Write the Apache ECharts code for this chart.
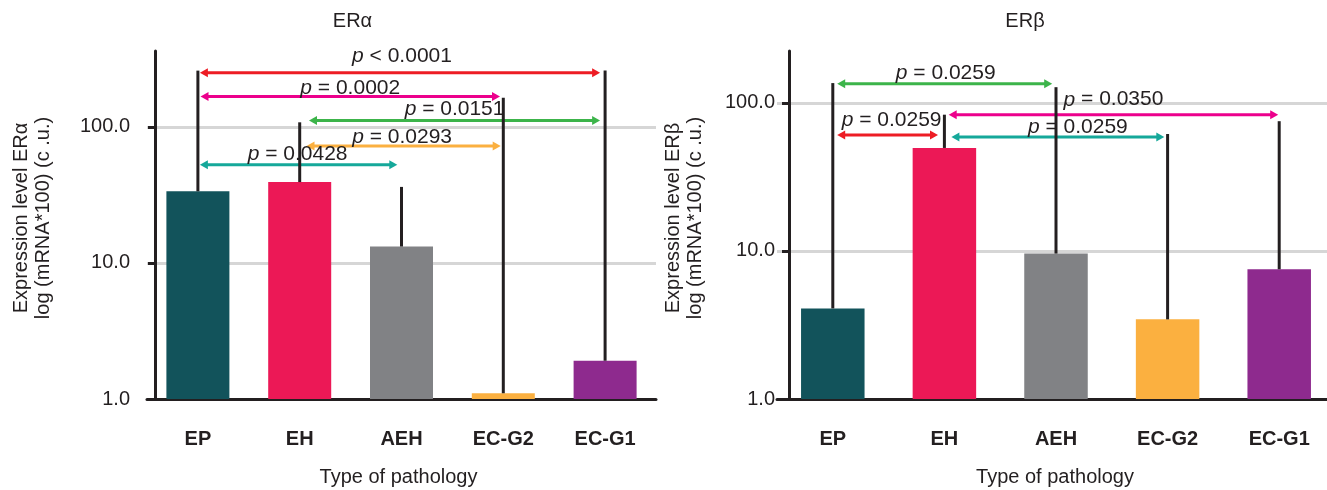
<!DOCTYPE html>
<html><head><meta charset="utf-8">
<script src="https://cdn.jsdelivr.net/npm/echarts@6/dist/echarts.min.js"></script>
<style>html,body{margin:0;padding:0;background:#fff}#c{width:1327px;height:490px}</style>
</head><body><div id="c"></div>
<script>
// ---------- data ----------
const categories = ['EP', 'EH', 'AEH', 'EC-G2', 'EC-G1'];
const yTicks = [1, 10, 100];
const alphaMeans = [33.6, 39.3, 13.2, 1.10, 1.91];
const alphaUpper = [259, 108, 36.2, 164, 259];
const betaMeans = [4.09, 49.6, 9.6, 3.45, 7.52];
const betaUpper = [136, 83.2, 127.6, 61.6, 75.2];
// comparisons: [fromIndex, toIndex, level, p-value text]
const alphaTests = [
  [0, 4, 250, '< 0.0001'],
  [0, 3, 167, '= 0.0002'],
  [1, 4, 111.5, '= 0.0151'],
  [1, 3, 72.4, '= 0.0293'],
  [0, 2, 52.7, '= 0.0428']
];
const betaTests = [
  [0, 2, 134.5, '= 0.0259'],
  [1, 4, 83.2, '= 0.0350'],
  [0, 1, 60.7, '= 0.0259'],
  [1, 3, 58.8, '= 0.0259']
];

// ---------- styles ----------
const barColors = ['#12535b', '#ec1856', '#818285', '#fbb040', '#8e2a8e'];
const alphaTestColors = ['#ed1c24', '#ec008c', '#3cb44a', '#fbb040', '#15a89a'];
const betaTestColors = ['#3cb44a', '#ec008c', '#ed1c24', '#15a89a'];
// [left gap, right gap, label rise, label shift]
const alphaTestLayout = [[2, -5, 16.5, 2], [2.6, -3.3, 8.5, 0], [9.3, -5, 11, 0], [6.8, -2.6, 8.5, -1.5], [2, -4.2, 11, -1]];
const betaTestLayout = [[4.4, -3.8, 11, 1], [4.3, -1, 15, 0], [4.4, -6.4, 15, 4], [7, -3.3, 10, 20]];

const FONT = '"Liberation Sans", Arial, Helvetica, sans-serif';
const INK = '#231f20';

function isPow10(v) {
  const l = Math.log10(v);
  return Math.abs(l - Math.round(l)) < 1e-6;
}

function xAxis(gi) {
  return {
    type: 'category', gridIndex: gi, data: categories,
    axisLine: { show: true, lineStyle: { color: INK, width: 3 } },
    axisTick: { show: false },
    axisLabel: { color: INK, fontFamily: FONT, fontSize: 20, fontWeight: 'bold', margin: 30 },
    splitLine: { show: false }
  };
}
function yAxis(gi, max, offset, margin) {
  return {
    type: 'log', logBase: 10, gridIndex: gi, min: 1, max: max, offset: offset,
    axisLine: { show: true, lineStyle: { color: INK, width: 3 } },
    axisTick: { show: true, length: 7, lineStyle: { color: INK, width: 3 }, customValues: yTicks },
    axisLabel: {
      color: INK, fontFamily: FONT, fontSize: 20, margin: margin,
      customValues: yTicks,
      formatter: v => isPow10(v) ? Number(v).toFixed(1) : ''
    },
    splitLine: { show: true, lineStyle: { color: '#d6d6d6', width: 3 } }
  };
}

function barSeries(means, gi, bw) {
  return {
    type: 'bar', xAxisIndex: gi, yAxisIndex: gi, barWidth: bw, z: 2,
    data: means.map((v, i) => ({ value: v, itemStyle: { color: barColors[i] } }))
  };
}
function errSeries(means, upper, gi) {
  return {
    type: 'custom', xAxisIndex: gi, yAxisIndex: gi, z: 6,
    encode: { x: 0, y: [1, 2] },
    data: means.map((m, i) => [i, m, upper[i]]),
    renderItem(params, api) {
      const a = api.coord([api.value(0), api.value(1)]);
      const b = api.coord([api.value(0), api.value(2)]);
      return { type: 'line', shape: { x1: a[0], y1: a[1], x2: b[0], y2: b[1] }, style: { stroke: INK, lineWidth: 3 } };
    }
  };
}
function testSeries(tests, colors, layout, gi) {
  return {
    type: 'custom', xAxisIndex: gi, yAxisIndex: gi, z: 5,
    encode: { x: [0, 1], y: 2 },
    data: tests.map(t => [t[0], t[1], t[2]]),
    renderItem(params, api) {
      const i = params.dataIndex;
      const t = tests[i], s = layout[i], col = colors[i];
      const a = api.coord([t[0], t[2]]), b = api.coord([t[1], t[2]]);
      const x1 = a[0] + s[0], x2 = b[0] + s[1], y = a[1];
      const L = 8, H = 4.5;
      return {
        type: 'group', children: [
          { type: 'line', shape: { x1: x1 + L - 1, y1: y, x2: x2 - L + 1, y2: y }, style: { stroke: col, lineWidth: 3 } },
          { type: 'polygon', shape: { points: [[x1, y], [x1 + L, y - H], [x1 + L, y + H]] }, style: { fill: col } },
          { type: 'polygon', shape: { points: [[x2, y], [x2 - L, y - H], [x2 - L, y + H]] }, style: { fill: col } },
          {
            type: 'text', x: (x1 + x2) / 2 + s[3], y: y - s[2], z2: 10,
            style: {
              text: '{i|p} ' + t[3],
              rich: { i: { fontStyle: 'italic', fontSize: 21, fontFamily: FONT, fill: INK } },
              fontSize: 21, fontFamily: FONT, fill: INK, align: 'center', verticalAlign: 'middle'
            }
          }
        ]
      };
    }
  };
}

function txt(x, y, text, extra) {
  return Object.assign({
    type: 'text', x: x, y: y,
    style: { text: text, fontSize: 20, fontFamily: FONT, fill: INK, align: 'center', verticalAlign: 'middle', lineHeight: 22 }
  }, extra || {});
}

const chart = echarts.init(document.getElementById('c'));
chart.setOption({
  animation: false,
  backgroundColor: '#fff',
  grid: [
    { left: 147, top: 51, width: 509, height: 348, outerBoundsMode: 'none', containLabel: false },
    { left: 777, top: 51, width: 558, height: 348, outerBoundsMode: 'none', containLabel: false }
  ],
  xAxis: [xAxis(0), xAxis(1)],
  yAxis: [yAxis(0, 361, -8, 25), yAxis(1, 224, -12, 14)],
  series: [
    barSeries(alphaMeans, 0, 63),
    testSeries(alphaTests, alphaTestColors, alphaTestLayout, 0),
    errSeries(alphaMeans, alphaUpper, 0),
    barSeries(betaMeans, 1, 63.5),
    testSeries(betaTests, betaTestColors, betaTestLayout, 1),
    errSeries(betaMeans, betaUpper, 1)
  ],
  graphic: [
    txt(352.5, 21, 'ERα'),
    txt(1025, 21, 'ERβ'),
    txt(398.5, 477, 'Type of pathology'),
    txt(1055, 477, 'Type of pathology'),
    txt(32, 218, 'Expression level ERα\nlog (mRNA*100) (c .u.)', { rotation: Math.PI / 2 }),
    txt(684, 218, 'Expression level ERβ\nlog (mRNA*100) (c .u.)', { rotation: Math.PI / 2 })
  ]
});
</script>
</body></html>
